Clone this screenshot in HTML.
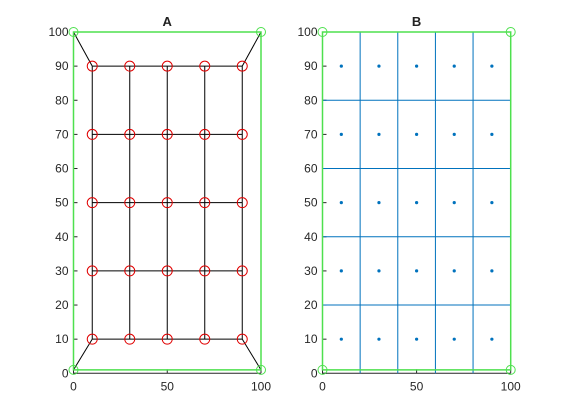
<!DOCTYPE html>
<html><head><meta charset="utf-8"><style>
body{margin:0;background:#fff;}
svg{display:block;font-family:"Liberation Sans",sans-serif;}
</style></head><body>
<svg id="c" width="565" height="420" viewBox="0 0 565 420"></svg>
<script>
const xTicks=[0,50,100];
const yTicks=[0,10,20,30,40,50,60,70,80,90,100];
const nodeX=[10,30,50,70,90];
const nodeY=[10,30,50,70,90];
const gridLines=[20,40,60,80];
const boundX=[0,100,100,0];
const boundY=[1,1,100,100];
const titles=["A","B"];
const NS="http://www.w3.org/2000/svg";
const svg=document.getElementById('c');
function mk(t,a,p){const e=document.createElementNS(NS,t);for(const k in a)e.setAttribute(k,a[k]);(p||svg).appendChild(e);return e;}
const panels=[{x0:73.5,x1:261},{x0:322.5,x1:510.7}];
const Y0=373.3,Y1=32;
panels.forEach((P,pi)=>{
  const sx=v=>P.x0+(P.x1-P.x0)*v/100, sy=v=>Y0+(Y1-Y0)*v/100;
  const g=mk('g',{});
  
  
  const t=mk('text',{x:(P.x0+P.x1)/2,y:26,'text-anchor':'middle','font-size':13,'font-weight':'bold',fill:'#222'},g);
  t.textContent=titles[pi];
  
  // axes
  const ax=mk('path',{d:`M${P.x0},${Y1}V${Y0}H${P.x1}`,stroke:'#262626',fill:'none','stroke-width':1},g);
  
  xTicks.forEach(v=>{mk('line',{x1:sx(v),x2:sx(v),y1:Y0,y2:Y0-4,stroke:'#262626'},g);
    const l=mk('text',{x:sx(v),y:Y0+17,'text-anchor':'middle','font-size':12,fill:'#262626'},g);l.textContent=v;
    });
  yTicks.forEach(v=>{mk('line',{x1:P.x0,x2:P.x0+4,y1:sy(v),y2:sy(v),stroke:'#262626'},g);
    const l=mk('text',{x:P.x0-5,y:sy(v)+4,'text-anchor':'end','font-size':12,fill:'#262626'},g);l.textContent=v;
    });
  if(pi===0){
    nodeX.forEach(x=>{const l=mk('line',{x1:sx(x),x2:sx(x),y1:sy(nodeY[0]),y2:sy(nodeY[nodeY.length-1]),stroke:'#000'},g);
      });
    nodeY.forEach(y=>{const l=mk('line',{x1:sx(nodeX[0]),x2:sx(nodeX[nodeX.length-1]),y1:sy(y),y2:sy(y),stroke:'#000'},g);
      });
    const cx=[[0,nodeX[0]],[100,nodeX[4]]],cy=[[boundY[0],nodeY[0]],[100,nodeY[4]]];
    cx.forEach(a=>cy.forEach(b=>{const l=mk('line',{x1:sx(a[0]),y1:sy(b[0]),x2:sx(a[1]),y2:sy(b[1]),stroke:'#000'},g);
      }));
    nodeX.forEach(x=>nodeY.forEach(y=>{const c=mk('circle',{cx:sx(x),cy:sy(y),r:5,fill:'none',stroke:'#e00000'},g);
      }));
  } else {
    gridLines.forEach(v=>{const a=mk('line',{x1:sx(v),x2:sx(v),y1:sy(0),y2:sy(100),stroke:'#0072bd'},g);
      
      const b=mk('line',{x1:sx(0),x2:sx(100),y1:sy(v),y2:sy(v),stroke:'#0072bd'},g);
      });
    nodeX.forEach(x=>nodeY.forEach(y=>{const c=mk('circle',{cx:sx(x),cy:sy(y),r:1.6,fill:'#0072bd'},g);
      }));
  }
  let d='';boundX.forEach((x,i)=>{d+=(i?'L':'M')+sx(x)+','+sy(boundY[i]);});d+='Z';
  const b=mk('path',{d:d,stroke:'#4ee04e',fill:'none','stroke-width':1.5},g);
  
  boundX.forEach((x,i)=>{const c=mk('circle',{cx:sx(x),cy:sy(boundY[i]),r:4.5,fill:'none',stroke:'#4ee04e'},g);
    });
});
</script>
</body></html>
